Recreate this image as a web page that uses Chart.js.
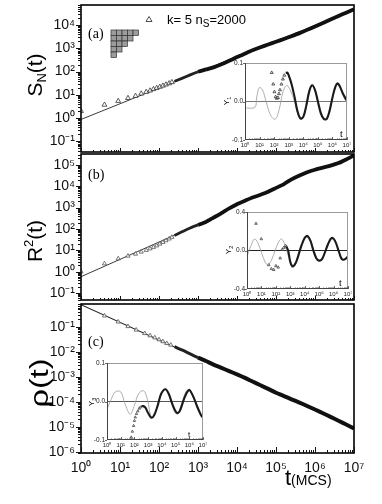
<!DOCTYPE html>
<html><head><meta charset="utf-8">
<script src="https://cdn.jsdelivr.net/npm/chart.js@4.4.1/dist/chart.umd.min.js"></script>
<style>
html,body{margin:0;padding:0;background:#fff;}
#wrap{position:relative;width:382px;height:504px;overflow:hidden;background:#fff;}
canvas{position:absolute;left:0;top:0;}
</style></head><body><div id="wrap">
<canvas id="cA" width="382" height="504"></canvas>
<canvas id="cB" width="382" height="504"></canvas>
<canvas id="cC" width="382" height="504"></canvas>
<canvas id="iA" width="382" height="504"></canvas>
<canvas id="iB" width="382" height="504"></canvas>
<canvas id="iC" width="382" height="504"></canvas>
</div>
<script>
// ---------- tick values / labels ----------
const X_TICKS = [1, 10, 100, 1e3, 1e4, 1e5, 1e6, 1e7];
const X_LABELS = ['10\u2070','10\u00B9','10\u00B2','10\u00B3','10\u2074','10\u2075','10\u2076','10\u2077'];
const A_Y_TICKS = [0.1, 1, 10, 100, 1e3, 1e4];
const A_Y_LABELS = ['10\u207B\u00B9','10\u2070','10\u00B9','10\u00B2','10\u00B3','10\u2074'];
const B_Y_TICKS = [0.1, 1, 10, 100, 1e3, 1e4, 1e5];
const B_Y_LABELS = ['10\u207B\u00B9','10\u2070','10\u00B9','10\u00B2','10\u00B3','10\u2074','10\u2075'];
const C_Y_TICKS = [1e-6, 1e-5, 1e-4, 1e-3, 1e-2, 0.1];
const C_Y_LABELS = ['10\u207B\u2076','10\u207B\u2075','10\u207B\u2074','10\u207B\u00B3','10\u207B\u00B2','10\u207B\u00B9'];
const IA_Y_TICKS = [-0.1, 0, 0.1];
const IA_Y_LABELS = ['-0.1', '0.0', '0.1'];
const IB_Y_TICKS = [-0.4, 0, 0.4];
const IB_Y_LABELS = ['-0.4', '0.0', '0.4'];

// ---------- main panels: times ----------
const T_MID = [250, 400, 630, 1000];
const T_LATE = [1e3,1600,2500,4e3,6300,1e4,1.6e4,2.5e4,4e4,6.3e4,1e5,1.6e5,2.5e5,4e5,6.3e5,1e6,1.6e6,2.5e6,4e6,6.3e6,1e7];

// (a) S_N(t)
const A_T_EARLY = [1,4,9,16,25,35,47,59,72,87,105,126,151,182,214];
const A_S_EARLY = [2.0,3.7,5.4,7.2,8.9,11.2,13.2,15.1,17.4,19.5,21.9,24.5,27.5,30.9,34.7];
const A_S_MID = [38,52,72,98];
const A_S_LATE = [98,123,151,204,288,417,589,813,1100,1450,1900,2510,3310,4470,6170,8710,12300,17400,24500,33900,47900];
const A_FIT_T = [1, 1e7];
const A_FIT = [0.87, 45700];

// (b) R^2(t)
const B_T_EARLY = [1,4,9,16,25,35,47,59,72,87,105,126,151,182,214];
const B_R_EARLY = [1.0,2.4,4.1,5.5,6.8,8.5,10.2,12.0,14.1,16.6,20.0,24.0,28.8,34.7,41.7];
const B_R_MID = [50.1,75.9,112,155];
const B_R_LATE = [155,214,339,550,912,1445,2089,2951,3981,5495,8318,12590,20890,31620,44670,58880,74130,91200,120200,177800,275400];
const B_FIT_T = [1, 1000];
const B_FIT = [0.59, 158];

// (c) rho(t)
const C_T_EARLY = [4,9,16,26,43,59,78,100,126,158,200];
const C_P_EARLY = [0.28,0.16,0.105,0.076,0.055,0.045,0.037,0.031,0.026,0.022,0.019];
const C_P_MID = [0.0162,0.0117,0.0083,0.0059];
const C_P_LATE = [0.0059,0.0043,0.0031,0.0023,0.0017,0.00126,0.00091,0.00065,0.00046,0.00033,0.00023,0.00017,0.000126,0.000093,0.000068,0.000049,0.000035,0.000025,0.0000174,0.0000123,0.0000085];
const C_FIT_T = [1, 1e7];
const C_FIT = [0.78, 8.7e-6];

// ---------- insets ----------
const ZERO_T = [1, 1e7];
const ZERO_Y = [0, 0];
// inset (a) Y1
const IA_FIT_T = [1,4.8,6.3,9.5,16,28,56,120,224,400,720,1260,2510,4470,7590,12600,22400,37200,63100,126000,224000,398000,708000,1.26e6,2.09e6,3.55e6,6.31e6,1e7];
const IA_FIT_Y = [-0.017,-0.015,0.01,0.036,0.03,0.0,-0.035,-0.046,-0.02,0.025,0.042,0.03,0.0,-0.035,-0.046,-0.03,0.01,0.042,0.03,-0.01,-0.04,-0.046,-0.02,0.025,0.045,0.035,0.01,-0.005];
const IA_T_EARLY = [68,87,105,126,151,182,214,251,316,398,501];
const IA_Y_EARLY = [0.075,0.045,0.025,0.012,0.008,0.01,0.02,0.03,0.045,0.058,0.068];
const IA_T_LATE = [630,794,1000,1580,2510,3980,6310,1e4,15800,25100,39800,63100,1e5,158000,251000,398000,631000,1e6,1.58e6,2.24e6,3.16e6,5.01e6,7.94e6,1e7];
const IA_Y_LATE = [0.074,0.075,0.068,0.045,0.012,-0.025,-0.044,-0.04,-0.012,0.025,0.042,0.03,0.0,-0.03,-0.045,-0.046,-0.025,0.01,0.038,0.047,0.04,0.022,0.008,0.002];
// inset (b) Y2
const IB_FIT_T = [1,1.78,3.31,5.62,10,17.8,28.2,50.1,89.1,158,245,398,708,1260,2000,3550,6310,11200,17800,31600,63100,1e5,178000,355000,708000,1.12e6,2.24e6,3.98e6,7.08e6,1e7];
const IB_FIT_Y = [-0.06,0.04,0.12,0.08,-0.02,-0.12,-0.15,-0.1,0.0,0.09,0.12,0.07,-0.05,-0.14,-0.155,-0.08,0.05,0.14,0.15,0.07,-0.07,-0.105,-0.08,0.05,0.13,0.12,0.0,-0.095,-0.09,-0.06];
const IB_T_EARLY = [4.2,9.8,32,49,71,100,145,200,275,355,468];
const IB_Y_EARLY = [0.28,0.12,-0.15,-0.19,-0.2,-0.16,-0.175,-0.08,0.01,0.03,0.05];
const IB_T_LATE = [501,708,1000,1350,2000,3160,5010,7940,11200,15800,25100,39800,63100,1e5,158000,251000,398000,631000,851000,1.26e6,2e6,3.16e6,4.27e6,6.31e6,1e7];
const IB_Y_LATE = [0.05,0.0,-0.12,-0.165,-0.15,-0.08,0.02,0.1,0.14,0.15,0.1,0.0,-0.08,-0.105,-0.09,-0.02,0.06,0.12,0.13,0.1,0.02,-0.07,-0.095,-0.09,-0.06];
// inset (c) Y3
const IC_FIT_T = [1,2,3.98,10,20,49,100,200,468,891,1740,3980,8910,18200,39800,79400,132000,251000,562000,1e6,2e6,3.98e6,1e7];
const IC_FIT_Y = [-0.02,0.005,0.025,0.025,-0.005,-0.033,-0.01,0.02,0.028,0.005,-0.04,-0.02,0.02,0.032,0.01,-0.025,-0.032,-0.01,0.025,0.03,0.01,-0.02,-0.04];
const IC_T_EARLY = [40,58,71,87,100,115,141,178,224,269];
const IC_Y_EARLY = [-0.12,-0.093,-0.078,-0.063,-0.05,-0.041,-0.032,-0.025,-0.018,-0.015];
const IC_T_LATE = [316,447,631,1000,1740,2820,5010,8910,18200,31600,63100,126000,200000,398000,708000,1.05e6,2e6,3.98e6,7.08e6,1e7];
const IC_Y_LATE = [-0.013,-0.012,-0.016,-0.03,-0.042,-0.035,-0.01,0.02,0.032,0.02,-0.01,-0.03,-0.025,0.005,0.025,0.03,0.012,-0.015,-0.035,-0.042];

// ---------- helpers ----------
const SANS = "'Liberation Sans', Arial, Helvetica, sans-serif";
const SERIF = "'Liberation Serif', 'Times New Roman', serif";
Chart.defaults.font.family = SANS;
const W = 382, H = 504;
const pts = (xs, ys) => xs.map((x, i) => ({x: x, y: ys[i]}));

function logMarks(min, max) {
  const out = [];
  for (let e = Math.floor(Math.log10(min)); e <= Math.ceil(Math.log10(max)); e++) {
    for (let m = 1; m <= 9; m++) {
      const v = m * Math.pow(10, e);
      if (v >= min * 0.9999 && v <= max * 1.0001) out.push({v: v, major: m === 1});
    }
  }
  return out;
}
function line(ctx, x1, y1, x2, y2) { ctx.beginPath(); ctx.moveTo(x1, y1); ctx.lineTo(x2, y2); ctx.stroke(); }
function yLogTicksOut(chart, maj, min) {
  const ctx = chart.ctx, ys = chart.scales.y, a = chart.chartArea;
  ctx.strokeStyle = '#111'; ctx.lineWidth = 1;
  logMarks(ys.min, ys.max).forEach(t => {
    const y = Math.round(ys.getPixelForValue(t.v)) + 0.5;
    line(ctx, a.left, y, a.left - (t.major ? maj : min), y);
  });
}
function xLogTicksIn(chart, maj, min, color, lw) {
  const ctx = chart.ctx, xs = chart.scales.x, a = chart.chartArea;
  ctx.strokeStyle = color; ctx.lineWidth = lw;
  logMarks(xs.min, xs.max).forEach(t => {
    const x = Math.round(xs.getPixelForValue(t.v)) + 0.5;
    line(ctx, x, a.bottom, x, a.bottom - (t.major ? maj : min));
  });
}
function rotText(ctx, bx, cy, parts, stretch) {
  ctx.save();
  ctx.translate(bx, cy); ctx.rotate(-Math.PI / 2);
  if (stretch) ctx.scale(stretch, 1);
  let total = 0;
  parts.forEach(p => { ctx.font = p.font; p.w = ctx.measureText(p.t).width; total += p.w; });
  let x = -total / 2;
  ctx.textBaseline = 'alphabetic'; ctx.fillStyle = '#000'; ctx.textAlign = 'left';
  parts.forEach(p => { ctx.font = p.font; ctx.fillText(p.t, x, p.dy || 0); x += p.w; });
  ctx.restore();
}
function hText(ctx, x, y, parts) {
  ctx.textBaseline = 'alphabetic'; ctx.fillStyle = '#000'; ctx.textAlign = 'left';
  parts.forEach(p => { ctx.font = p.font; ctx.fillText(p.t, x, y + (p.dy || 0)); x += ctx.measureText(p.t).width; });
}
function mainFrame(chart) {
  const ctx = chart.ctx, a = chart.chartArea;
  ctx.strokeStyle = '#000'; ctx.lineWidth = 1.6;
  ctx.strokeRect(a.left, a.top, a.right - a.left, a.bottom - a.top);
}
function insetFrame(chart) {
  const ctx = chart.ctx, a = chart.chartArea;
  ctx.lineWidth = 1;
  ctx.strokeStyle = '#9a9a9a';
  line(ctx, a.left, a.top + 0.5, a.right, a.top + 0.5);
  line(ctx, a.right - 0.5, a.top, a.right - 0.5, a.bottom);
  ctx.strokeStyle = '#444';
  line(ctx, a.left + 0.5, a.top, a.left + 0.5, a.bottom);
  line(ctx, a.left, a.bottom - 0.5, a.right, a.bottom - 0.5);
  xLogTicksIn(chart, 3, 1.5, '#444', 0.8);
  const ys = chart.scales.y;
  ys.ticks.forEach(t => { const y = Math.round(ys.getPixelForValue(t.value)) + 0.5; line(ctx, a.left, y, a.left - 2, y); });
}

const DECOR = {};
const WHITE = {iA: true, iB: true, iC: true};
const decorPlugin = {
  id: 'decor',
  beforeDatasetsDraw(chart) {
    if (!WHITE[chart.canvas.id]) return;
    const a = chart.chartArea, ctx = chart.ctx;
    ctx.save(); ctx.fillStyle = '#fff'; ctx.fillRect(a.left, a.top, a.right - a.left, a.bottom - a.top); ctx.restore();
  },
  afterDraw(chart) {
    const f = DECOR[chart.canvas.id];
    if (f) { chart.ctx.save(); f(chart); chart.ctx.restore(); }
  }
};

function lineDs(data, color, width, order, tension) {
  return {data: data, showLine: true, borderColor: color, borderWidth: width, pointRadius: 0,
          tension: tension || 0, fill: false, order: order};
}
function triDs(data, color, r, order) {
  return {data: data, showLine: false, pointStyle: 'triangle', pointRadius: r, pointBorderWidth: 0.8,
          pointBorderColor: color, pointBackgroundColor: 'rgba(255,255,255,0.9)', order: order};
}

function mkMain(id, area, yMin, yMax, yTicks, yLabels, datasets, showX) {
  const xH = showX ? 51 : 0;
  return new Chart(document.getElementById(id), {
    type: 'scatter',
    data: {datasets: datasets},
    plugins: [decorPlugin],
    options: {
      responsive: false, animation: false, devicePixelRatio: 1, events: [],
      layout: {padding: {left: 0, right: W - area.right, top: area.top, bottom: H - area.bottom - xH}},
      plugins: {legend: {display: false}, tooltip: {enabled: false}},
      scales: {
        x: {type: 'logarithmic', min: 1, max: 1e7, display: showX,
            grid: {display: false, drawTicks: false}, border: {display: false},
            afterBuildTicks: s => { s.ticks = X_TICKS.map(v => ({value: v})); },
            afterFit: s => { s.height = xH; s.paddingLeft = 0; s.paddingRight = 0; },
            ticks: {autoSkip: false, maxRotation: 0, padding: 7, color: '#111',
                    font: {size: 14, family: SANS}, callback: (v, i) => X_LABELS[i]}},
        y: {type: 'logarithmic', min: yMin, max: yMax,
            grid: {display: false, drawTicks: false}, border: {display: false},
            afterBuildTicks: s => { s.ticks = yTicks.map(v => ({value: v})); },
            afterFit: s => { s.width = area.left; s.paddingTop = 0; s.paddingBottom = 0; },
            ticks: {autoSkip: false, padding: 6, color: '#111',
                    font: {size: 14, family: SANS}, callback: (v, i) => yLabels[i]}}
      }
    }
  });
}
function mkInset(id, area, yMin, yMax, yTicks, yLabels, datasets) {
  const yW = 18, xH = 13;
  return new Chart(document.getElementById(id), {
    type: 'scatter',
    data: {datasets: datasets},
    plugins: [decorPlugin],
    options: {
      responsive: false, animation: false, devicePixelRatio: 1, events: [],
      layout: {padding: {left: area.left - yW, right: W - area.right, top: area.top, bottom: H - area.bottom - xH}},
      plugins: {legend: {display: false}, tooltip: {enabled: false}},
      scales: {
        x: {type: 'logarithmic', min: 1, max: 1e7,
            grid: {display: false, drawTicks: false}, border: {display: false},
            afterBuildTicks: s => { s.ticks = X_TICKS.map(v => ({value: v})); },
            afterFit: s => { s.height = xH; s.paddingLeft = 0; s.paddingRight = 0; },
            ticks: {autoSkip: false, maxRotation: 0, padding: 2, color: '#222',
                    font: {size: 6, family: SANS}, callback: (v, i) => X_LABELS[i]}},
        y: {type: 'linear', min: yMin, max: yMax,
            grid: {display: false, drawTicks: false}, border: {display: false},
            afterBuildTicks: s => { s.ticks = yTicks.map(v => ({value: v})); },
            afterFit: s => { s.width = yW; s.paddingTop = 0; s.paddingBottom = 0; },
            ticks: {autoSkip: false, padding: 2, color: '#222',
                    font: {size: 6.5, family: SANS}, callback: (v, i) => yLabels[i]}}
      }
    }
  });
}

// ---------- decorations ----------
DECOR.cA = chart => {
  const ctx = chart.ctx;
  mainFrame(chart); yLogTicksOut(chart, 5, 3); xLogTicksIn(chart, 4, 2, '#111', 1);
  rotText(ctx, 42, 75, [{t: 'S', font: '21px ' + SANS}, {t: 'N', font: '13px ' + SANS, dy: 4}, {t: '(t)', font: '21px ' + SANS}]);
  hText(ctx, 88, 38, [{t: '(a)', font: '14px ' + SERIF}]);
  ctx.strokeStyle = '#222'; ctx.lineWidth = 0.8;
  ctx.beginPath(); ctx.moveTo(149, 16.5); ctx.lineTo(152, 21.5); ctx.lineTo(146, 21.5); ctx.closePath(); ctx.stroke();
  hText(ctx, 167, 24, [{t: 'k= 5 n', font: '13px ' + SANS}, {t: 'S', font: '10px ' + SANS, dy: 3}, {t: '=2000', font: '13px ' + SANS}]);
  const rows = [5, 4, 3, 2, 1], c = 5.5, x0 = 111, y0 = 30;
  rows.forEach((n, r) => {
    for (let i = 0; i < n; i++) {
      ctx.fillStyle = '#9c9c9c'; ctx.fillRect(x0 + i * c, y0 + r * c, c, c);
      ctx.strokeStyle = '#333'; ctx.lineWidth = 0.7; ctx.strokeRect(x0 + i * c, y0 + r * c, c, c);
    }
  });
};
DECOR.cB = chart => {
  const ctx = chart.ctx;
  mainFrame(chart); yLogTicksOut(chart, 5, 3); xLogTicksIn(chart, 4, 2, '#111', 1);
  rotText(ctx, 42, 241, [{t: 'R', font: '21px ' + SANS}, {t: '2', font: '13px ' + SANS, dy: -9}, {t: '(t)', font: '21px ' + SANS}]);
  hText(ctx, 88, 179, [{t: '(b)', font: '14px ' + SERIF}]);
};
DECOR.cC = chart => {
  const ctx = chart.ctx;
  mainFrame(chart); yLogTicksOut(chart, 5, 3); xLogTicksIn(chart, 6, 3, '#111', 1);
  rotText(ctx, 48, 383, [{t: '\u03C1(t)', font: '25px ' + SANS}], 1.3);
  hText(ctx, 88, 346, [{t: '(c)', font: '14px ' + SERIF}]);
  hText(ctx, 285, 485, [{t: 't', font: '22px ' + SANS}, {t: '(MCS)', font: '14px ' + SANS}]);
};
DECOR.iA = chart => {
  const ctx = chart.ctx;
  insetFrame(chart);
  rotText(ctx, 229, 101, [{t: 'Y', font: '8px ' + SANS}, {t: '1', font: '5.5px ' + SANS, dy: 2}]);
  hText(ctx, 340, 137, [{t: 't', font: '10px ' + SERIF}]);
};
DECOR.iB = chart => {
  const ctx = chart.ctx;
  insetFrame(chart);
  rotText(ctx, 231, 250, [{t: 'Y', font: '8px ' + SANS}, {t: '2', font: '5.5px ' + SANS, dy: 2}]);
  hText(ctx, 339, 286, [{t: 't', font: '10px ' + SERIF}]);
};
DECOR.iC = chart => {
  const ctx = chart.ctx;
  insetFrame(chart);
  rotText(ctx, 94, 402, [{t: 'Y', font: '8px ' + SANS}, {t: '3', font: '5.5px ' + SANS, dy: 2}]);
  hText(ctx, 188, 437, [{t: 't', font: '8px ' + SANS}]);
};

// ---------- charts ----------
mkMain('cA', {left: 81, right: 354, top: 5, bottom: 152}, 0.0347, 72400, A_Y_TICKS, A_Y_LABELS, [
  triDs(pts(A_T_EARLY, A_S_EARLY), '#333', 2.8, 0),
  lineDs(pts(T_MID, A_S_MID), '#222', 2.8, 1, 0.2),
  lineDs(pts(T_LATE, A_S_LATE), '#111', 3.8, 1, 0.2),
  lineDs(pts(A_FIT_T, A_FIT), '#222', 0.9, 2)
], false);
mkMain('cB', {left: 81, right: 354, top: 154, bottom: 300}, 0.048, 320000, B_Y_TICKS, B_Y_LABELS, [
  triDs(pts(B_T_EARLY, B_R_EARLY), '#555', 2.4, 0),
  lineDs(pts(T_MID, B_R_MID), '#222', 2.8, 1, 0.2),
  lineDs(pts(T_LATE, B_R_LATE), '#111', 3.8, 1, 0.2),
  lineDs(pts(B_FIT_T, B_FIT), '#222', 0.9, 2)
], false);
mkMain('cC', {left: 81, right: 354, top: 304, bottom: 453}, 8.9e-7, 0.83, C_Y_TICKS, C_Y_LABELS, [
  triDs(pts(C_T_EARLY, C_P_EARLY), '#555', 2.4, 0),
  lineDs(pts(T_MID, C_P_MID), '#222', 3.0, 1, 0.2),
  lineDs(pts(T_LATE, C_P_LATE), '#111', 4.0, 1, 0.2),
  lineDs(pts(C_FIT_T, C_FIT), '#222', 1.2, 2)
], true);

mkInset('iA', {left: 245, right: 347, top: 63, bottom: 140}, -0.1, 0.1, IA_Y_TICKS, IA_Y_LABELS, [
  triDs(pts(IA_T_EARLY, IA_Y_EARLY), '#333', 1.7, 0),
  lineDs(pts(IA_T_LATE, IA_Y_LATE), '#1a1a1a', 2.1, 1, 0.35),
  lineDs(pts(IA_FIT_T, IA_FIT_Y), '#9a9a9a', 0.8, 2, 0.35),
  lineDs(pts(ZERO_T, ZERO_Y), '#777', 1, 3)
]);
mkInset('iB', {left: 247, right: 348, top: 212, bottom: 289}, -0.4, 0.4, IB_Y_TICKS, IB_Y_LABELS, [
  triDs(pts(IB_T_EARLY, IB_Y_EARLY), '#444', 1.5, 0),
  lineDs(pts(IB_T_LATE, IB_Y_LATE), '#1a1a1a', 2.1, 1, 0.35),
  lineDs(pts(IB_FIT_T, IB_FIT_Y), '#9a9a9a', 0.8, 2, 0.35),
  lineDs(pts(ZERO_T, ZERO_Y), '#222', 1.2, 3)
]);
mkInset('iC', {left: 107, right: 203, top: 363, bottom: 440}, -0.1, 0.1, IA_Y_TICKS, IA_Y_LABELS, [
  triDs(pts(IC_T_EARLY, IC_Y_EARLY), '#444', 1.4, 0),
  lineDs(pts(IC_T_LATE, IC_Y_LATE), '#1a1a1a', 2.1, 1, 0.35),
  lineDs(pts(IC_FIT_T, IC_FIT_Y), '#9a9a9a', 0.8, 2, 0.35),
  lineDs(pts(ZERO_T, ZERO_Y), '#555', 1.2, 3)
]);
</script></body></html>
